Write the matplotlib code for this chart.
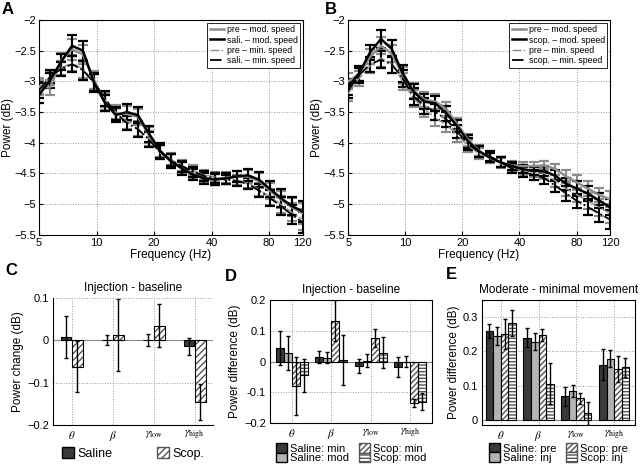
import numpy as np
import matplotlib
matplotlib.use('Agg')
import matplotlib.pyplot as plt
from matplotlib.patches import Patch

plt.rcParams['font.family'] = ['Liberation Sans', 'DejaVu Sans']
plt.rcParams['mathtext.fontset'] = 'stix'
plt.rcParams['font.size'] = 8

# frequency bins (Hz), shared by A and B
freqs = [5.0, 5.71, 6.52, 7.44, 8.49, 9.70, 11.07, 12.63, 14.42, 16.46, 18.80, 21.46,
         24.49, 27.96, 31.92, 36.44, 41.6, 47.5, 54.2, 61.9, 70.7, 80.7, 92.1, 105.1, 120.0]
freq_ticks = [5, 10, 20, 40, 80, 120]

# panel A: saline session
a_pre_mod = [-3.08, -3.10, -2.66, -2.48, -2.56, -2.98, -3.33, -3.52, -3.53, -3.58, -3.87, -4.15,
             -4.30, -4.40, -4.50, -4.57, -4.60, -4.57, -4.55, -4.55, -4.62, -4.78, -4.92, -5.05, -5.15]
a_sali_mod = [-3.22, -2.98, -2.68, -2.42, -2.50, -3.02, -3.35, -3.55, -3.50, -3.55, -3.85, -4.13,
              -4.30, -4.42, -4.52, -4.58, -4.60, -4.58, -4.55, -4.53, -4.60, -4.75, -4.90, -5.03, -5.12]
a_pre_min = [-3.10, -2.95, -2.78, -2.70, -2.80, -3.00, -3.30, -3.50, -3.65, -3.77, -3.93, -4.12,
             -4.27, -4.37, -4.45, -4.52, -4.56, -4.59, -4.61, -4.65, -4.76, -4.88, -5.00, -5.13, -5.25]
a_sali_min = [-3.15, -2.92, -2.80, -2.72, -2.82, -3.02, -3.28, -3.52, -3.68, -3.78, -3.95, -4.15,
              -4.28, -4.38, -4.47, -4.54, -4.58, -4.60, -4.62, -4.67, -4.78, -4.90, -5.03, -5.17, -5.30]
a_sem_mod = [0.13, 0.12, 0.13, 0.17, 0.16, 0.15, 0.13, 0.12, 0.13, 0.13, 0.13, 0.12,
             0.11, 0.10, 0.09, 0.09, 0.09, 0.09, 0.09, 0.10, 0.12, 0.13, 0.14, 0.15, 0.17]
a_sem_min = [0.12, 0.11, 0.12, 0.13, 0.15, 0.14, 0.12, 0.11, 0.12, 0.12, 0.12, 0.11,
             0.10, 0.09, 0.08, 0.08, 0.08, 0.08, 0.08, 0.09, 0.11, 0.13, 0.14, 0.15, 0.17]

# panel B: scopolamine session
b_pre_mod = [-3.00, -2.88, -2.60, -2.42, -2.55, -2.90, -3.15, -3.30, -3.33, -3.45, -3.70, -3.95,
             -4.13, -4.25, -4.33, -4.37, -4.38, -4.38, -4.37, -4.43, -4.55, -4.65, -4.75, -4.85, -4.92]
b_scop_mod = [-3.09, -2.87, -2.53, -2.31, -2.47, -2.87, -3.17, -3.33, -3.36, -3.52, -3.73, -3.98,
              -4.14, -4.24, -4.32, -4.38, -4.43, -4.46, -4.46, -4.54, -4.67, -4.75, -4.83, -4.94, -5.05]
b_pre_min = [-3.20, -2.95, -2.75, -2.62, -2.72, -3.00, -3.28, -3.45, -3.60, -3.70, -3.88, -4.05,
             -4.18, -4.25, -4.32, -4.40, -4.45, -4.48, -4.50, -4.62, -4.75, -4.85, -4.95, -5.05, -5.15]
b_scop_min = [-3.15, -2.90, -2.72, -2.65, -2.72, -2.95, -3.25, -3.40, -3.50, -3.62, -3.82, -4.02,
              -4.15, -4.22, -4.32, -4.42, -4.48, -4.52, -4.58, -4.70, -4.83, -4.95, -5.05, -5.15, -5.25]
b_sem_mod = [0.13, 0.12, 0.12, 0.14, 0.14, 0.14, 0.12, 0.12, 0.12, 0.12, 0.10, 0.10,
             0.09, 0.08, 0.08, 0.07, 0.07, 0.07, 0.08, 0.09, 0.10, 0.12, 0.12, 0.12, 0.13]
b_sem_min = [0.12, 0.12, 0.12, 0.14, 0.14, 0.14, 0.14, 0.13, 0.13, 0.12, 0.11, 0.10,
             0.09, 0.08, 0.08, 0.08, 0.08, 0.08, 0.09, 0.10, 0.12, 0.12, 0.13, 0.14, 0.15]

bands = [r'$\theta$', r'$\beta$', r'$\gamma_{\rm low}$', r'$\gamma_{\rm high}$']

# panel C: injection - baseline
c_saline = [0.008, 0.0, 0.0, -0.014]
c_saline_err = [0.05, 0.012, 0.014, 0.02]
c_scop = [-0.062, 0.012, 0.035, -0.146]
c_scop_err = [0.06, 0.085, 0.05, 0.043]

# panel D: injection - baseline, split by speed
d_sal_min = [0.044, 0.015, -0.014, -0.017]
d_sal_min_err = [0.054, 0.019, 0.023, 0.032]
d_sal_mod = [0.029, 0.013, 0.003, 0.0]
d_sal_mod_err = [0.055, 0.017, 0.02, 0.018]
d_scop_min = [-0.079, 0.133, 0.076, -0.134]
d_scop_min_err = [0.093, 0.066, 0.03, 0.013]
d_scop_mod = [-0.045, 0.005, 0.029, -0.13]
d_scop_mod_err = [0.053, 0.08, 0.05, 0.028]

# panel E: moderate - minimal movement
e_sal_pre = [0.259, 0.24, 0.069, 0.161]
e_sal_pre_err = [0.02, 0.027, 0.028, 0.045]
e_sal_inj = [0.244, 0.228, 0.085, 0.179]
e_sal_inj_err = [0.026, 0.025, 0.017, 0.024]
e_scop_pre = [0.251, 0.247, 0.063, 0.148]
e_scop_pre_err = [0.043, 0.018, 0.016, 0.037]
e_scop_inj = [0.282, 0.106, 0.019, 0.153]
e_scop_inj_err = [0.038, 0.06, 0.034, 0.028]

DARK = '#3a3a3a'
LIGHT = '#b4b4b4'
GREY_LINE = '#8c8c8c'


def spectrum_panel(ax, series, labels, sems):
    # series: pre_mod, drug_mod, pre_min, drug_min
    styles = [dict(color=GREY_LINE, ls='-', lw=1.8),
              dict(color='black', ls='-', lw=1.8),
              dict(color=GREY_LINE, ls='-.', lw=1.0),
              dict(color='black', ls='-.', lw=1.3)]
    for idx in [0, 2, 1, 3]:
        st = styles[idx]
        ax.errorbar(freqs, series[idx], yerr=sems[idx], fmt='none', ecolor=st['color'],
                    elinewidth=1.5, capsize=3.6, capthick=1.6, zorder=2 + idx % 2)
    for idx in range(4):
        ax.plot(freqs, series[idx], label=labels[idx], zorder=4 + idx % 2, **styles[idx])
    ax.set_xscale('log')
    ax.set_xlim(5, 120)
    ax.set_ylim(-5.5, -2)
    ax.set_xticks(freq_ticks)
    ax.set_xticklabels([str(t) for t in freq_ticks])
    ax.minorticks_off()
    ax.set_yticks([-5.5, -5, -4.5, -4, -3.5, -3, -2.5, -2])
    ax.set_yticklabels(['\u22125.5', '\u22125', '\u22124.5', '\u22124', '\u22123.5', '\u22123',
                        '\u22122.5', '\u22122'])
    ax.grid(True, ls=':', color='#999999', lw=0.7)
    ax.tick_params(direction='in', length=3, labelsize=8, pad=2)
    ax.set_xlabel('Frequency (Hz)', fontsize=8.5, labelpad=1)
    ax.set_ylabel('Power (dB)', fontsize=8.5)
    ax.yaxis.set_label_coords(-0.095, 0.5)
    leg = ax.legend(loc='upper right', fontsize=6.3, handlelength=1.6, handletextpad=0.3,
                    labelspacing=0.15, borderpad=0.3, fancybox=False, framealpha=1,
                    borderaxespad=0.3)
    leg.get_frame().set_edgecolor('black')
    leg.get_frame().set_linewidth(0.6)


def hatched_bar(ax, x, h, w, hatch, err):
    ax.bar(x, h, w, color='white', edgecolor='#555555', hatch=hatch, lw=0, zorder=3)
    ax.bar(x, h, w, fill=False, edgecolor='black', lw=0.8, zorder=4)
    ax.errorbar(x, h, yerr=err, fmt='none', ecolor='black', elinewidth=1.0,
                capsize=1.6, capthick=1.0, zorder=5)


def solid_bar(ax, x, h, w, color, err):
    ax.bar(x, h, w, color=color, edgecolor='black', lw=0.8, zorder=3)
    ax.errorbar(x, h, yerr=err, fmt='none', ecolor='black', elinewidth=1.0,
                capsize=1.6, capthick=1.0, zorder=5)


def bar_axes_style(ax, title, ylabel):
    ax.set_xticks(range(1, 5))
    ax.set_xticklabels(bands, fontsize=9)
    ax.grid(True, ls=':', color='#999999', lw=0.7)
    ax.set_axisbelow(True)
    ax.axhline(0, color='#888888', lw=0.8, zorder=2)
    ax.tick_params(direction='in', length=0, labelsize=8, pad=3)
    ax.set_title(title, fontsize=8.5, pad=5)
    ax.set_ylabel(ylabel, fontsize=8.5, labelpad=2)


def bar_legend(ax, handles, anchor, **kw):
    ax.legend(handles=handles, loc='upper center', bbox_to_anchor=(0.5, anchor), ncol=2,
              frameon=False, handlelength=1.0, borderpad=0, **kw)


fig = plt.figure(figsize=(6.4, 4.65), dpi=100)

axA = fig.add_axes([0.061, 0.495, 0.412, 0.462])
spectrum_panel(axA, [a_pre_mod, a_sali_mod, a_pre_min, a_sali_min],
               ['pre \u2013 mod. speed', 'sali. \u2013 mod. speed',
                'pre \u2013 min. speed', 'sali. \u2013 min. speed'],
               [a_sem_mod, a_sem_mod, a_sem_min, a_sem_min])

axB = fig.add_axes([0.544, 0.495, 0.409, 0.462])
spectrum_panel(axB, [b_pre_mod, b_scop_mod, b_pre_min, b_scop_min],
               ['pre \u2013 mod. speed', 'scop. \u2013 mod. speed',
                'pre \u2013 min. speed', 'scop. \u2013 min. speed'],
               [b_sem_mod, b_sem_mod, b_sem_min, b_sem_min])

# C
axC = fig.add_axes([0.083, 0.086, 0.250, 0.273])
pos = np.arange(1, 5)
solid_bar(axC, pos - 0.14, c_saline, 0.26, DARK, c_saline_err)
hatched_bar(axC, pos + 0.14, c_scop, 0.26, '/////', c_scop_err)
axC.set_xlim(0.55, 4.45)
axC.set_ylim(-0.2, 0.1)
axC.set_yticks([-0.2, -0.1, 0, 0.1])
axC.set_yticklabels(['\u22120.2', '\u22120.1', '0', '0.1'])
bar_axes_style(axC, 'Injection - baseline', 'Power change (dB)')
axC.spines['top'].set_visible(False)
axC.spines['right'].set_visible(False)
bar_legend(axC, [Patch(facecolor=DARK, edgecolor='black', label='Saline'),
                 Patch(facecolor='white', edgecolor='#555555', hatch='/////', label='Scop.')],
           -0.125, fontsize=9, handleheight=1.0, handletextpad=0.3, columnspacing=3.5)

# D
axD = fig.add_axes([0.422, 0.090, 0.253, 0.265])
w = 0.2
solid_bar(axD, pos - 0.3, d_sal_min, w, DARK, d_sal_min_err)
solid_bar(axD, pos - 0.1, d_sal_mod, w, LIGHT, d_sal_mod_err)
hatched_bar(axD, pos + 0.1, d_scop_min, w, '//////', d_scop_min_err)
hatched_bar(axD, pos + 0.3, d_scop_mod, w, '-----', d_scop_mod_err)
axD.set_xlim(0.45, 4.55)
axD.set_ylim(-0.2, 0.2)
axD.set_yticks([-0.2, -0.1, 0, 0.1, 0.2])
axD.set_yticklabels(['\u22120.2', '-0.1', '0', '0.1', '0.2'])
bar_axes_style(axD, 'Injection - baseline', 'Power difference (dB)')
bar_legend(axD, [Patch(facecolor=DARK, edgecolor='black', label='Saline: min'),
                 Patch(facecolor=LIGHT, edgecolor='black', label='Saline: mod'),
                 Patch(facecolor='white', edgecolor='#555555', hatch='//////', label='Scop: min'),
                 Patch(facecolor='white', edgecolor='#555555', hatch='-----', label='Scop: mod')],
           -0.12, fontsize=8.0, handleheight=0.9, handletextpad=0.25, columnspacing=0.9,
           labelspacing=-0.1)

# E
axE = fig.add_axes([0.753, 0.086, 0.239, 0.269])
solid_bar(axE, pos - 0.3, e_sal_pre, w, DARK, e_sal_pre_err)
solid_bar(axE, pos - 0.1, e_sal_inj, w, LIGHT, e_sal_inj_err)
hatched_bar(axE, pos + 0.1, e_scop_pre, w, '//////', e_scop_pre_err)
hatched_bar(axE, pos + 0.3, e_scop_inj, w, '-----', e_scop_inj_err)
axE.set_xlim(0.5, 4.55)
axE.set_ylim(-0.015, 0.35)
axE.set_yticks([0, 0.1, 0.2, 0.3])
axE.set_yticklabels(['0', '0.1', '0.2', '0.3'])
bar_axes_style(axE, 'Moderate - minimal movement', 'Power difference (dB)')
bar_legend(axE, [Patch(facecolor=DARK, edgecolor='black', label='Saline: pre'),
                 Patch(facecolor=LIGHT, edgecolor='black', label='Saline: inj'),
                 Patch(facecolor='white', edgecolor='#555555', hatch='//////', label='Scop: pre'),
                 Patch(facecolor='white', edgecolor='#555555', hatch='-----', label='Scop: inj')],
           -0.10, fontsize=8.0, handleheight=0.9, handletextpad=0.25, columnspacing=0.9,
           labelspacing=-0.1)

# panel letters
for letter, x, y in [('A', 0.003, 0.995), ('B', 0.508, 0.995), ('C', 0.008, 0.435),
                     ('D', 0.352, 0.422), ('E', 0.697, 0.425)]:
    fig.text(x, y, letter, fontsize=12, fontweight='bold', va='top', ha='left')

fig.savefig('out.png', dpi=100)
